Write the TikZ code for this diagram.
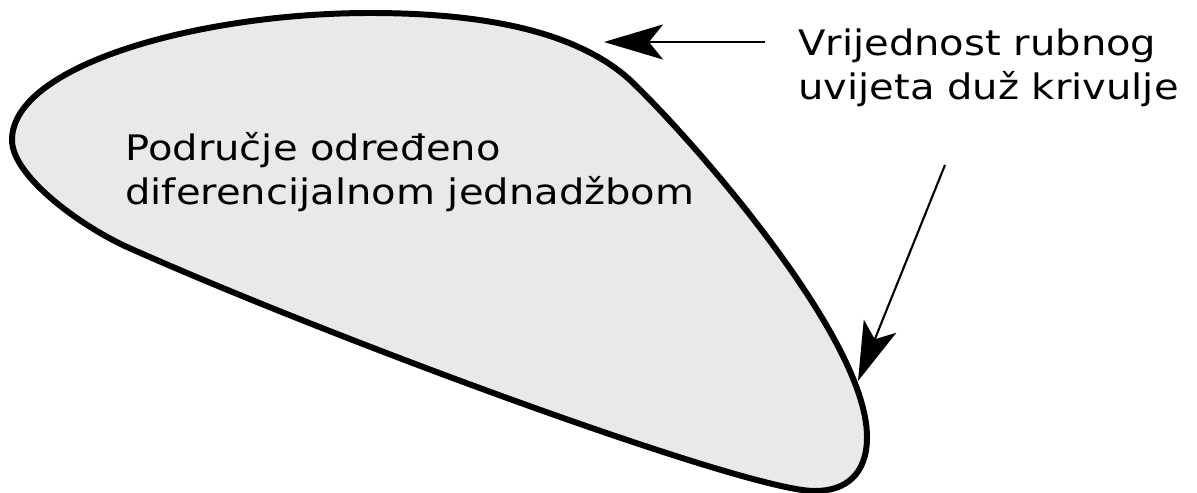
\documentclass[tikz,border=0pt]{standalone}
\usepackage{fontspec}
\setmainfont{DejaVu Sans}[FakeStretch=1.14]
\usetikzlibrary{arrows.meta}
\definecolor{regionfill}{RGB}{233,233,233}
\begin{document}
\begin{tikzpicture}[
    x=0.02cm, y=-0.02cm,
    boundary/.style={line width=3.4pt, fill=regionfill, line join=round},
    label/.style={anchor=base west, inner sep=0pt, align=left, font=\fontsize{20}{25.6}\selectfont},
    pointer/.style={-{Stealth[length=1.18cm, width=0.7cm, inset=0.28cm]}}
]
    \useasboundingbox (0,0) rectangle (1197,493);

    % Podrucje
    \draw[boundary] (12,140) .. controls (12,65) and (200,13) .. (370,13)
        .. controls (480,13) and (575,30) .. (630,80)
        .. controls (690,137) and (867,337) .. (867,437)
        .. controls (867,475) and (845,491) .. (815,491)
        .. controls (750,492) and (340,342) .. (127,247)
        .. controls (77,224) and (12,175) .. (12,140) -- cycle;
    \node[label] (region) at (125,205) {Područje određeno\\diferencijalnom jednadžbom};

    % Rubni uvjet
    \node[label] (condition) at (798,100) {Vrijednost rubnog\\uvijeta duž krivulje};

    % Strelice
    \coordinate (tailTop) at (765,42);
    \coordinate (tipTop) at (604,42);
    \coordinate (tailSide) at (945,165);
    \coordinate (tipSide) at (858,381);
    \draw[pointer, line width=1.6pt] (tailTop) -- (tipTop);
    \draw[pointer, line width=1.2pt] (tailSide) -- (tipSide);
\end{tikzpicture}
\end{document}
